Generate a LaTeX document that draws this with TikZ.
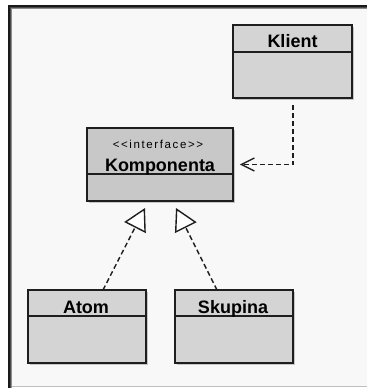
\documentclass[tikz,border=0pt]{standalone}
\usepackage{fontspec}
\setmainfont{Liberation Sans}
\usetikzlibrary{arrows.meta,shadows}
\definecolor{bgin}{HTML}{F8F8F8}
\definecolor{boxfill}{HTML}{D4D4D4}
\definecolor{ifacefill}{HTML}{C8C8C8}
\definecolor{edge}{HTML}{1E1E1E}
\begin{document}
\begin{tikzpicture}[x=1pt,y=-1pt,
  cls/.style={draw=edge, line width=1.7pt, fill=boxfill, rectangle, inner sep=0pt,
    drop shadow={shadow xshift=2pt, shadow yshift=-2pt, fill=black!30, opacity=0.7}},
  title/.style={anchor=base, inner sep=0pt, font=\fontsize{18}{20}\selectfont\bfseries},
  stereo/.style={anchor=base, inner sep=0pt, font=\fontsize{11.5}{13}\selectfont\addfontfeature{LetterSpace=14}},
  divider/.style={draw=edge, line width=1.4pt},
  dep/.style={draw=edge, line width=1.4pt, dash pattern=on 5pt off 3pt},
  depend/.style={dep, -{Straight Barb[length=13pt,width=13pt,line width=1.4pt]}},
  realize/.style={dep, -{Triangle[open,length=22pt,width=24pt,line width=1.4pt,fill=white]}}
]
\useasboundingbox (0,0) rectangle (367,388);
% frame
\fill[white] (0,0) rectangle (367,388);
\fill[bgin] (8,5) rectangle (367,386);
\draw[black!25, line width=1pt] (8,386) -- (367,386);
\draw[black!45, line width=1pt] (11.5,388) -- (11.5,8.5) -- (367,8.5);
\draw[black!70, line width=1pt] (10.5,388) -- (10.5,7.5) -- (367,7.5);
\draw[black!90, line width=1.2pt] (9,388) -- (9,6) -- (367,6);

% classes
\node[cls, minimum width=119pt, minimum height=73pt] (klient) at (292.5,61.5) {};
\node[cls, fill=ifacefill, minimum width=146pt, minimum height=73pt] (komp) at (160,164.5) {};
\node[cls, minimum width=118pt, minimum height=73pt] (atom) at (87,326.5) {};
\node[cls, minimum width=118pt, minimum height=73pt] (skup) at (234,326.5) {};

\draw[divider] (klient.west |- 0,52) -- (klient.east |- 0,52);
\draw[divider] (komp.west |- 0,174) -- (komp.east |- 0,174);
\draw[divider] (atom.west |- 0,316) -- (atom.east |- 0,316);
\draw[divider] (skup.west |- 0,316) -- (skup.east |- 0,316);

\node[title] (tklient) at (292.5,47.5) {Klient};
\node[stereo] (tiface) at (158,148) {{<}{<}interface{>}{>}};
\node[title] (tkomp) at (160,171.5) {Komponenta};
\node[title] (tatom) at (86,313) {Atom};
\node[title] (tskup) at (233,313) {Skupina};

% connectors
\coordinate (kb) at (293,105);
\draw[depend, shorten >=6pt] (kb) |- (komp.east);
\coordinate (a1) at (103,290);
\coordinate (t1) at (145,208);
\coordinate (a2) at (217,290);
\coordinate (t2) at (176,208);
\draw[realize] (a1) -- (t1);
\draw[realize] (a2) -- (t2);
\end{tikzpicture}
\end{document}
